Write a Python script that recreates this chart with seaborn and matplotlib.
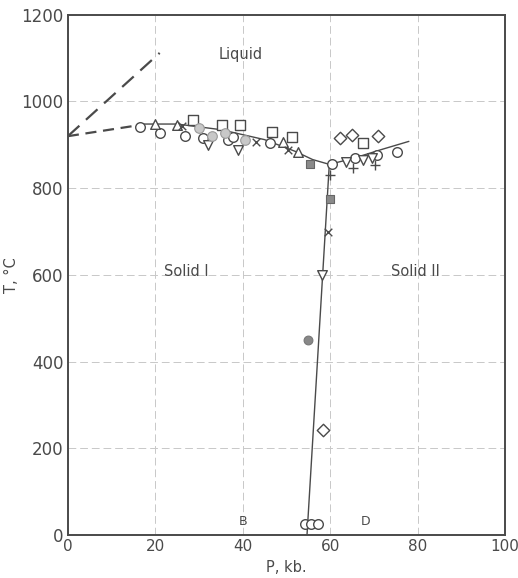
import matplotlib
matplotlib.use("Agg")
import matplotlib.pyplot as plt
import seaborn as sns
import pandas as pd

# ---- data ----
liq_dash_P = [0, 21]
liq_dash_T = [920, 1112]
melt_dash_P = [0, 16]
melt_dash_T = [920, 945]
melt_curve_P = [16, 25, 35, 45, 52, 56, 59.8, 65, 72, 78]
melt_curve_T = [948, 948, 935, 912, 885, 866, 855, 868, 890, 908]
trans_P = [54.7, 59.8]
trans_T = [0, 855]

circle_P = [16.5, 21, 26.8, 31, 36.6, 37.8, 46.2, 60.5, 65.7, 70.7, 75.3, 54.2, 55.7, 57.2]
circle_T = [942, 928, 920, 915, 912, 919, 905, 856, 870, 877, 884, 25, 25, 25]
square_P = [28.6, 35.2, 39.4, 46.7, 51.3, 67.5]
square_T = [958, 946, 946, 930, 918, 905]
triup_P = [20, 25, 49.2, 52.6]
triup_T = [948, 946, 907, 884]
tridown_P = [32, 38.9, 58.1, 63.6, 67.5, 69.6]
tridown_T = [900, 889, 600, 860, 865, 870]
diamond_P = [62.2, 65, 71, 58.4]
diamond_T = [915, 923, 921, 242]
x_P = [26, 43, 50.3, 59.5]
x_T = [944, 907, 889, 700]
plus_P = [60, 65.2, 70.2]
plus_T = [830, 847, 854]
shaded_P = [30, 33, 36, 40.5]
shaded_T = [939, 921, 928, 912]
filled_circle_P = [55]
filled_circle_T = [450]
filled_square_P = [55.4, 60]
filled_square_T = [856, 775]

x_ticks = [0, 20, 40, 60, 80, 100]
y_ticks = [0, 200, 400, 600, 800, 1000, 1200]

sns.set_style("white")
plt.rcParams['font.family'] = ['DejaVu Sans']

ink = "#4a4a4a"
fig = plt.figure(figsize=(5.18, 5.78), dpi=100)
ax = fig.add_axes([0.131, 0.0744, 0.844, 0.90])

def df(p, t):
    return pd.DataFrame({"P": p, "T": t})

sns.lineplot(data=df(liq_dash_P, liq_dash_T), x="P", y="T", ax=ax, color=ink,
             lw=1.6, linestyle=(0, (7, 4)), sort=False)
sns.lineplot(data=df(melt_dash_P, melt_dash_T), x="P", y="T", ax=ax, color=ink,
             lw=1.6, linestyle=(0, (5, 3)), sort=False)
sns.lineplot(data=df(melt_curve_P, melt_curve_T), x="P", y="T", ax=ax, color=ink,
             lw=1.0, sort=False)
sns.lineplot(data=df(trans_P, trans_T), x="P", y="T", ax=ax, color=ink,
             lw=1.0, sort=False)

ms = 48
open_kw = dict(facecolor="white", edgecolor=ink, linewidth=1.0, s=ms, zorder=5)
sns.scatterplot(data=df(circle_P, circle_T), x="P", y="T", ax=ax, marker="o", **open_kw)
sns.scatterplot(data=df(square_P, square_T), x="P", y="T", ax=ax, marker="s", **open_kw)
sns.scatterplot(data=df(triup_P, triup_T), x="P", y="T", ax=ax, marker="^", **open_kw)
sns.scatterplot(data=df(tridown_P, tridown_T), x="P", y="T", ax=ax, marker="v", **open_kw)
sns.scatterplot(data=df(diamond_P, diamond_T), x="P", y="T", ax=ax, marker="D",
                facecolor="white", edgecolor=ink, linewidth=1.0, s=40, zorder=5)
sns.scatterplot(data=df(shaded_P, shaded_T), x="P", y="T", ax=ax, marker="o",
                facecolor="#c8c8c8", edgecolor="#999999", linewidth=0.8, s=ms, zorder=5)
sns.scatterplot(data=df(filled_circle_P, filled_circle_T), x="P", y="T", ax=ax, marker="o",
                facecolor="#888888", edgecolor="#777777", linewidth=0.8, s=40, zorder=5)
sns.scatterplot(data=df(filled_square_P, filled_square_T), x="P", y="T", ax=ax, marker="s",
                facecolor="#8a8a8a", edgecolor="#666666", linewidth=0.8, s=40, zorder=5)
sns.scatterplot(data=df(x_P, x_T), x="P", y="T", ax=ax, marker="x", color=ink,
                linewidth=1.0, s=30, zorder=5)
sns.scatterplot(data=df(plus_P, plus_T), x="P", y="T", ax=ax, marker="+", color=ink,
                linewidth=1.0, s=50, zorder=5)

ax.set_xlim(0, 100)
ax.set_ylim(0, 1200)
ax.set_xticks(x_ticks)
ax.set_yticks(y_ticks)
ax.set_xticklabels([str(v) for v in x_ticks])
ax.set_yticklabels([str(v) for v in y_ticks])
ax.tick_params(axis="y", length=0, labelsize=12, labelcolor=ink, pad=3)
ax.tick_params(axis="x", length=0, labelsize=11, labelcolor=ink, pad=3)
ax.grid(True, color="#c8c8c8", linestyle=(0, (8, 4)), lw=0.7)
for s in ax.spines.values():
    s.set_color(ink)
    s.set_linewidth(1.4)
    s.set_visible(True)

ax.set_xlabel("P, kb.", fontsize=10.5, color=ink, labelpad=4)
ax.set_ylabel("T, °C", fontsize=10.5, color=ink, labelpad=2)

tk = dict(fontsize=10.5, color=ink, ha="center", va="center")
ax.text(39.5, 1108, "Liquid", **tk)
ax.text(27, 607, "Solid I", **tk)
ax.text(79.5, 607, "Solid II", **tk)
ax.text(40, 30, "B", fontsize=9, color=ink, ha="center", va="center")
ax.text(68, 30, "D", fontsize=9, color=ink, ha="center", va="center")

fig.savefig("out.png", dpi=100)
